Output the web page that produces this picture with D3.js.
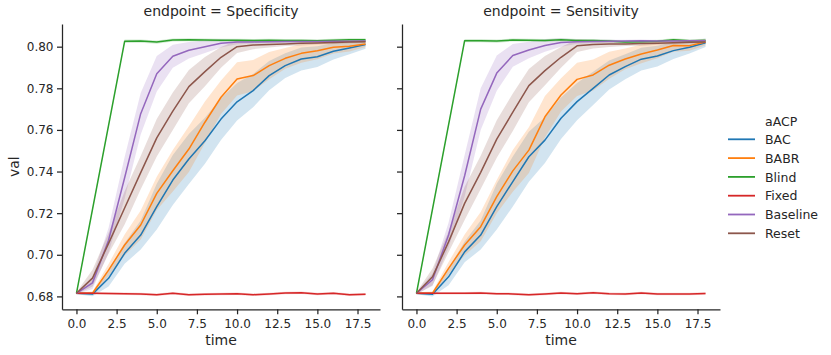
<!DOCTYPE html>
<html>
<head>
<meta charset="utf-8">
<script src="https://cdn.jsdelivr.net/npm/d3@7"></script>
<style>
  body { margin: 0; background: #fff; }
  text { font-family: "DejaVu Sans", sans-serif; fill: #262626; }
</style>
</head>
<body>
<script>
// data
var time = [0, 1, 2, 3, 4, 5, 6, 7, 8, 9, 10, 11, 12, 13, 14, 15, 16, 17, 18];
var hueNames = ["BAC", "BABR", "Blind", "Fixed", "Baseline", "Reset"];
var panelNames = ["Specificity", "Sensitivity"];
var yTicks = [0.68, 0.70, 0.72, 0.74, 0.76, 0.78, 0.80];
var xTicks = [0, 2.5, 5, 7.5, 10, 12.5, 15, 17.5];

var specBAC = [0.6815, 0.6811, 0.6887, 0.7007, 0.7095, 0.7231, 0.7359, 0.7460, 0.7548, 0.7652, 0.7735, 0.7789, 0.7861, 0.7909, 0.7941, 0.7952, 0.7978, 0.7994, 0.8010];
var specBABR = [0.6815, 0.6815, 0.6926, 0.7047, 0.7143, 0.7295, 0.7404, 0.7508, 0.7637, 0.7757, 0.7845, 0.7861, 0.7909, 0.7944, 0.7968, 0.7980, 0.7997, 0.8002, 0.8013];
var specBlind = [0.6815, null, null, 0.8026, 0.8027, 0.8022, 0.8032, 0.8033, 0.8032, 0.8031, 0.8031, 0.8030, 0.8031, 0.8030, 0.8030, 0.8029, 0.8031, 0.8033, 0.8033];
var specFixed = [0.6815, 0.6815, 0.6814, 0.6813, 0.6812, 0.6808, 0.6815, 0.6808, 0.6810, 0.6811, 0.6813, 0.6808, 0.6812, 0.6816, 0.6818, 0.6812, 0.6815, 0.6808, 0.6810];
var specBaseline = [0.6815, 0.6865, 0.7070, 0.7370, 0.7678, 0.7870, 0.7954, 0.7983, 0.8000, 0.8016, 0.8022, 0.8023, 0.8024, 0.8025, 0.8025, 0.8025, 0.8026, 0.8026, 0.8027];
var specReset = [0.6815, 0.6888, 0.7055, 0.7225, 0.7395, 0.7562, 0.7690, 0.7808, 0.7880, 0.7949, 0.8000, 0.8008, 0.8011, 0.8013, 0.8016, 0.8018, 0.8020, 0.8022, 0.8024];

var sensBAC = [0.6815, 0.6810, 0.6894, 0.7014, 0.7095, 0.7231, 0.7352, 0.7471, 0.7551, 0.7656, 0.7736, 0.7800, 0.7864, 0.7904, 0.7940, 0.7955, 0.7981, 0.7997, 0.8019];
var sensBABR = [0.6815, 0.6815, 0.6935, 0.7047, 0.7135, 0.7279, 0.7403, 0.7503, 0.7663, 0.7768, 0.7843, 0.7864, 0.7911, 0.7941, 0.7965, 0.7984, 0.8006, 0.8005, 0.8022];
var sensBlind = [0.6815, null, null, 0.8029, 0.8029, 0.8027, 0.8032, 0.8031, 0.8030, 0.8033, 0.8030, 0.8030, 0.8027, 0.8022, 0.8024, 0.8026, 0.8033, 0.8028, 0.8030];
var sensFixed = [0.6815, 0.6815, 0.6815, 0.6815, 0.6816, 0.6813, 0.6812, 0.6808, 0.6812, 0.6816, 0.6813, 0.6817, 0.6813, 0.6811, 0.6816, 0.6811, 0.6811, 0.6812, 0.6814];
var sensBaseline = [0.6815, 0.6880, 0.7095, 0.7380, 0.7700, 0.7873, 0.7958, 0.7984, 0.8006, 0.8020, 0.8024, 0.8025, 0.8026, 0.8027, 0.8028, 0.8027, 0.8027, 0.8028, 0.8029];
var sensReset = [0.6815, 0.6894, 0.7062, 0.7247, 0.7396, 0.7556, 0.7685, 0.7813, 0.7885, 0.7949, 0.8004, 0.8011, 0.8013, 0.8013, 0.8015, 0.8017, 0.8019, 0.8021, 0.8023];

// half width of the shaded band, same look in both panels
var ciBAC = [0.0005, 0.001, 0.004, 0.005, 0.007, 0.011, 0.012, 0.012, 0.011, 0.010, 0.009, 0.008, 0.007, 0.006, 0.0055, 0.005, 0.004, 0.003, 0.002];
var ciBABR = [0.0005, 0.0008, 0.003, 0.005, 0.007, 0.008, 0.010, 0.011, 0.010, 0.008, 0.008, 0.0075, 0.0065, 0.005, 0.0045, 0.004, 0.003, 0.0025, 0.0015];
var ciBlind = [0.0006, null, null, 0.0008, 0.0008, 0.0008, 0.0007, 0.0007, 0.0007, 0.0007, 0.0007, 0.0007, 0.0007, 0.0007, 0.0007, 0.0007, 0.0007, 0.0008, 0.0008];
var ciFixed = [0.0005, 0.0006, 0.0006, 0.0006, 0.0006, 0.0006, 0.0006, 0.0006, 0.0006, 0.0006, 0.0006, 0.0006, 0.0006, 0.0006, 0.0006, 0.0006, 0.0006, 0.0006, 0.0006];
var ciBaseline = [0.0005, 0.003, 0.006, 0.010, 0.010, 0.0085, 0.0055, 0.004, 0.003, 0.002, 0.001, 0.0008, 0.0007, 0.0006, 0.0006, 0.0005, 0.0005, 0.0005, 0.0005];
var ciReset = [0.0005, 0.004, 0.005, 0.008, 0.008, 0.009, 0.009, 0.008, 0.007, 0.005, 0.003, 0.002, 0.0015, 0.001, 0.001, 0.0008, 0.0007, 0.0006, 0.0006];

var colors = ["#1f77b4", "#ff7f0e", "#2ca02c", "#d62728", "#9467bd", "#8c564b"];

var panelValues = [
  [specBAC, specBABR, specBlind, specFixed, specBaseline, specReset],
  [sensBAC, sensBABR, sensBlind, sensFixed, sensBaseline, sensReset]
];
var ciValues = [ciBAC, ciBABR, ciBlind, ciFixed, ciBaseline, ciReset];

var width = 831, height = 355;
var panelLeft = [62, 402];
var panelWidth = 318;
var plotTop = 24, plotBottom = 309.3;
var tickFont = 12, labelFont = 14, legendFont = 12.5;

var xScale = d3.scaleLinear().domain([-0.9, 18.9]).range([0, panelWidth]);
var yScale = d3.scaleLinear().domain([0.6738, 0.8109]).range([plotBottom, plotTop]);

function seriesPoints(vals, ci) {
  var pts = [];
  for (var i = 0; i < time.length; i++) {
    if (vals[i] == null) continue;
    pts.push({t: time[i], v: vals[i], lo: vals[i] - ci[i], hi: vals[i] + ci[i]});
  }
  return pts;
}

function drawPanel(svg, p) {
  var g = svg.append("g").attr("transform", "translate(" + panelLeft[p] + ",0)");

  var area = d3.area()
    .x(function(d){ return xScale(d.t); })
    .y0(function(d){ return yScale(d.lo); })
    .y1(function(d){ return yScale(d.hi); });
  var line = d3.line()
    .x(function(d){ return xScale(d.t); })
    .y(function(d){ return yScale(d.v); });

  var series = panelValues[p].map(function(vals, k){
    return {name: hueNames[k], color: colors[k], pts: seriesPoints(vals, ciValues[k])};
  });

  // bands sit under all lines, like matplotlib zorder
  g.selectAll("path.band")
    .data(series)
    .enter()
    .append("path")
    .attr("class", "band")
    .attr("d", function(d){ return area(d.pts); })
    .attr("fill", function(d){ return d.color; })
    .attr("fill-opacity", 0.2)
    .attr("stroke", "none");

  g.selectAll("path.line")
    .data(series)
    .enter()
    .append("path")
    .attr("class", "line")
    .attr("d", function(d){ return line(d.pts); })
    .attr("fill", "none")
    .attr("stroke", function(d){ return d.color; })
    .attr("stroke-width", 1.5)
    .attr("stroke-linejoin", "round");

  var xAxis = d3.axisBottom(xScale)
    .tickValues(xTicks)
    .tickFormat(d3.format(".1f"))
    .tickSize(5)
    .tickSizeOuter(0)
    .tickPadding(5.5);
  var xg = g.append("g").attr("transform", "translate(0," + plotBottom + ")").call(xAxis);

  var yAxis = d3.axisLeft(yScale)
    .tickValues(yTicks)
    .tickFormat(p == 0 ? d3.format(".2f") : "")
    .tickSize(5)
    .tickSizeOuter(0)
    .tickPadding(3.5);
  var yg = g.append("g").call(yAxis);

  [xg, yg].forEach(function(a){
    a.selectAll("path.domain").attr("stroke", "#262626").attr("stroke-width", 1.25);
    a.selectAll(".tick line").attr("stroke", "#262626").attr("stroke-width", 1.25);
    a.selectAll(".tick text").attr("font-size", tickFont).style("font-family", "DejaVu Sans").attr("fill", "#262626");
  });

  g.append("text")
    .attr("x", panelWidth / 2)
    .attr("y", 16)
    .attr("text-anchor", "middle")
    .attr("font-size", labelFont)
    .text("endpoint = " + panelNames[p]);

  g.append("text")
    .attr("x", panelWidth / 2)
    .attr("y", 345)
    .attr("text-anchor", "middle")
    .attr("font-size", labelFont)
    .text("time");
}

function drawLegend(svg) {
  var lg = svg.append("g");
  lg.append("text").attr("x", 765).attr("y", 126).attr("font-size", legendFont).text("aACP");
  var items = lg.selectAll("g.item")
    .data(hueNames)
    .enter()
    .append("g")
    .attr("class", "item")
    .attr("transform", function(d, i){ return "translate(0," + (144 + i * 18.8) + ")"; });
  items.append("line")
    .attr("x1", 728).attr("x2", 755)
    .attr("y1", -4.7).attr("y2", -4.7)
    .attr("stroke", function(d, i){ return colors[i]; })
    .attr("stroke-width", 1.8);
  items.append("text")
    .attr("x", 765)
    .attr("font-size", legendFont)
    .text(function(d){ return d; });
}

function init() {
  var svg = d3.select("body")
    .append("svg")
    .attr("width", width)
    .attr("height", height);

  drawPanel(svg, 0);
  drawPanel(svg, 1);

  svg.append("text")
    .attr("transform", "translate(18.5," + ((plotTop + plotBottom) / 2) + ") rotate(-90)")
    .attr("text-anchor", "middle")
    .attr("font-size", labelFont)
    .text("val");

  drawLegend(svg);
  return svg;
}

var svg = init();
</script>
</body>
</html>
